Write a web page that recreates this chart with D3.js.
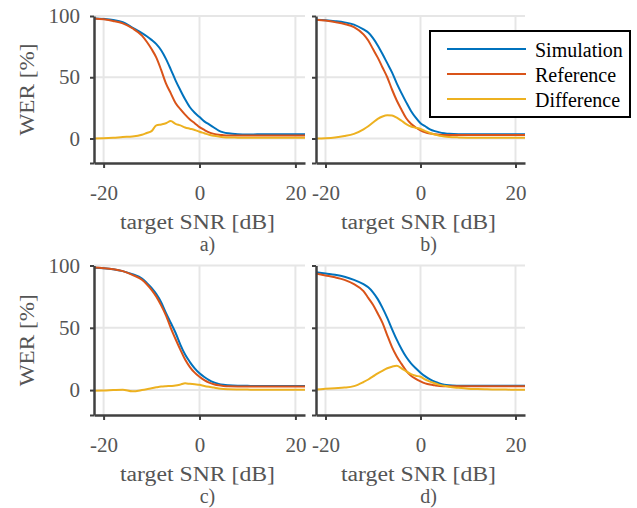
<!DOCTYPE html>
<html><head><meta charset="utf-8">
<script src="https://cdn.jsdelivr.net/npm/d3@7"></script>
<style>body{margin:0;background:#fff} svg text{font-family:"Liberation Serif","Times New Roman",serif}</style>
</head><body><svg id="c" width="637" height="508"></svg>
<script>
const snr = [-22,-20,-18,-16,-14,-12,-11,-10,-9,-8,-7,-6,-5,-4,-3,-2,-1,0,1,2,3,4,5,6,8,10,12,14,16,18,20,22];

const simA  = [98,97.6,96.8,95,90.5,86,83.5,80.5,77,72,65,56.5,47.5,39.5,32,25.5,21,17.5,14,11.5,9,6.5,5,4.2,3.5,3.3,3.4,3.5,3.5,3.5,3.5,3.5];
const refA  = [98,97.3,96,94,90,84,79,73,66,56,45,37,29,24,19.5,15.5,12.5,9.3,7,5,3.8,3,2.7,2.5,2.4,2.4,2.5,2.5,2.5,2.5,2.5,2.5];
const diffA = [0,0.2,0.6,1.2,1.6,3,4.5,6,10.7,11.5,12.5,14.2,12,10.7,9,8,7,5.5,4.3,3,2.2,1.6,1.1,0.8,0.7,0.6,0.6,0.6,0.6,0.6,0.6,0.6];

const simB  = [97,96.5,95.8,94.8,93,89,86.5,82,76,69,61.5,54,45,37,29.5,22.5,17,12.5,10,7.5,6,5,4.3,3.8,3.5,3.5,3.5,3.5,3.5,3.5,3.5,3.5];
const refB  = [97,96.3,95,93.5,91,85,80,73,66,58,50,40,31,23.5,16.5,12,9,6.7,5,4,3.4,3,2.9,2.8,2.8,2.8,2.8,2.8,2.8,2.8,2.8,2.8];
const diffB = [0,0.3,0.9,2,3.8,7.5,10,13,16,18,19,18.8,17,14.5,11.8,9.8,8.8,7.8,6,4.5,3.2,2.3,1.7,1.3,0.9,0.7,0.6,0.6,0.6,0.6,0.6,0.6];

const simC  = [98.2,97.8,97,95.5,93,89.5,86,82,77,70.5,62,54,46,36.5,28.5,22.5,17.5,13.5,10.5,8,6.2,5,4.3,3.9,3.5,3.4,3.3,3.3,3.3,3.3,3.3,3.3];
const refC  = [98.3,97.8,97,95.5,92.5,88.5,85,80.5,75,68,60,50,41,32.5,24.5,18.5,14,10.7,8,6,4.7,3.8,3.3,3,2.9,2.9,2.9,2.9,2.9,2.9,2.9,2.9];
const diffC = [-0.5,-0.4,0,0.3,-1,0,0.7,1.5,2.2,2.8,3.1,3.3,3.6,4.4,5.4,5,4.6,4.2,3.3,2.6,2,1.3,0.9,0.7,0.5,0.4,0.3,0.3,0.2,0.2,0.2,0.2];

const simD  = [94.6,93.5,92.5,91,88.5,85,82.5,78.5,73,66,58,49,40.5,33,26.5,21.5,17.5,14,11,8.6,6.7,5.3,4.3,3.8,3.5,3.4,3.4,3.4,3.4,3.4,3.4,3.4];
const refD  = [93.5,92,90.5,88.5,85,79.5,74,68.5,61.5,54,44,34.5,27,21,15.5,11.5,9,7,5.4,4.4,3.8,3.3,3.1,3,3,3,3,3,3,3,3,3];
const diffD = [0.5,1,1.5,2,3.2,6.5,8.5,11,13.5,15.5,17.5,18.8,19.5,17.5,15,12.8,11.5,10.7,8.5,6.8,5.5,4.2,3.4,2.7,1.8,1.1,0.8,0.6,0.5,0.4,0.3,0.2];

const xTicks = [-20, 0, 20];
const yTicks = [-20, 0, 50, 100];
const yLabelTicks = [0, 50, 100];
const panelLabels = ["a)", "b)", "c)", "d)"];
const seriesNames = ["Simulation", "Reference", "Difference"];
const xLabel = "target SNR [dB]";
const yLabel = "WER [%]";

const colors = ["#0072BD", "#D95319", "#EDB120"];
const panels = [
  [simA, refA, diffA],
  [simB, refB, diffB],
  [simC, refC, diffC],
  [simD, refD, diffD]
];

const colRanges = [[94, 305], [316, 525]];
const rowRanges = [[163, 16], [415, 265.5]];
const axisColor = "#404040";
const textColor = "#555555";
const gridColor = "#e6e6e6";

const svg = d3.select("#c");

panels.forEach((series, i) => {
  const col = i % 2, row = Math.floor(i / 2);
  const x = d3.scaleLinear().domain([-22, 22]).range(colRanges[col]);
  const y = d3.scaleLinear().domain([-20, 100]).range(rowRanges[row]);
  const g = svg.append("g");

  // grid
  g.selectAll(null).data(xTicks).join("line")
    .attr("x1", d => x(d)).attr("x2", d => x(d))
    .attr("y1", y(-20)).attr("y2", y(100))
    .attr("stroke", gridColor).attr("stroke-width", 2);
  g.selectAll(null).data(yLabelTicks).join("line")
    .attr("x1", x(-22)).attr("x2", x(22))
    .attr("y1", d => y(d)).attr("y2", d => y(d))
    .attr("stroke", gridColor).attr("stroke-width", 2);

  // lines
  const line = d3.line().x((d, j) => x(snr[j])).y(d => y(d)).curve(d3.curveMonotoneX);
  series.forEach((vals, k) => {
    g.append("path").datum(vals).attr("d", line)
      .attr("fill", "none").attr("stroke", colors[k]).attr("stroke-width", 2)
      .attr("stroke-linejoin", "round");
  });

  // axes
  const gx = g.append("g").attr("transform", `translate(0,${y(-20)})`)
    .call(d3.axisBottom(x).tickValues(xTicks).tickSize(5).tickSizeOuter(0).tickPadding(17).tickFormat(d => String(d)));
  const gy = g.append("g").attr("transform", `translate(${x(-22)},0)`)
    .call(d3.axisLeft(y).tickValues(yTicks).tickSize(4).tickSizeOuter(0).tickPadding(10)
      .tickFormat(d => (col === 0 && yLabelTicks.includes(d)) ? String(d) : ""));
  [gx, gy].forEach(a => {
    a.select(".domain").attr("stroke", axisColor).attr("stroke-width", 2.5);
    a.selectAll(".tick line").attr("stroke", axisColor).attr("stroke-width", 2);
    a.selectAll(".tick text").attr("fill", textColor).style("font-size", "21px")
      .style("font-family", '"Liberation Serif","Times New Roman",serif');
  });

  // axis labels
  const cx = (colRanges[col][0] + colRanges[col][1]) / 2;
  const base = y(-20);
  g.append("text").attr("x", cx - 2).attr("y", base + 66)
    .attr("text-anchor", "middle").attr("fill", textColor)
    .style("font-size", "20px").attr("textLength", 155).attr("lengthAdjust", "spacingAndGlyphs")
    .text(xLabel);
  g.append("text").attr("x", x(0) + 8).attr("y", base + 88)
    .attr("text-anchor", "middle").attr("fill", textColor)
    .style("font-size", "20px").text(panelLabels[i]);
  if (col === 0) {
    const cy = (rowRanges[row][0] + rowRanges[row][1]) / 2;
    g.append("text").attr("transform", `translate(34,${cy}) rotate(-90)`)
      .attr("text-anchor", "middle").attr("fill", textColor)
      .style("font-size", "22px").attr("textLength", 92).attr("lengthAdjust", "spacingAndGlyphs")
      .text(yLabel);
  }
});

// legend
const lg = svg.append("g");
lg.append("rect").attr("x", 430).attr("y", 31).attr("width", 200).attr("height", 86)
  .attr("fill", "#fff").attr("stroke", "#000").attr("stroke-width", 2);
seriesNames.forEach((name, k) => {
  const yy = 49 + k * 25;
  lg.append("line").attr("x1", 447).attr("x2", 526).attr("y1", yy).attr("y2", yy)
    .attr("stroke", colors[k]).attr("stroke-width", 2);
  lg.append("text").attr("x", 535).attr("y", yy + 8).attr("fill", "#000")
    .style("font-size", "20px").text(name);
});
</script></body></html>
